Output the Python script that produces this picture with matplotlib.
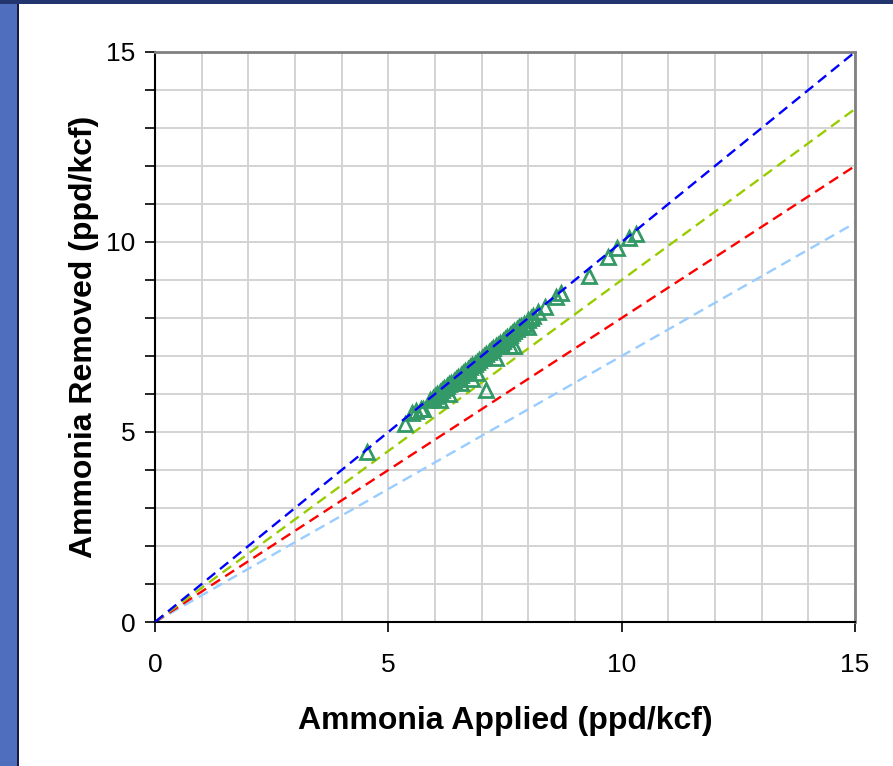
import matplotlib
matplotlib.use("Agg")
import matplotlib.pyplot as plt
from matplotlib.patches import Rectangle
from matplotlib.ticker import MultipleLocator

plt.rcParams['font.family'] = ['Liberation Sans', 'DejaVu Sans']

# Reference lines (removal fractions of applied)
line_x = [0, 15]
line_100 = [0, 15.0]
line_90 = [0, 13.5]
line_80 = [0, 12.0]
line_70 = [0, 10.5]

# Observed data (ppd/kcf)
applied = [4.55, 5.35, 5.5, 5.6, 5.75, 5.9, 5.95, 6.0, 6.05, 6.1, 6.15, 6.2,
           6.25, 6.3, 6.35, 6.4, 6.45, 6.5, 6.55, 6.6, 6.65, 6.7, 6.75, 6.8,
           6.85, 6.9, 6.95, 7.0, 7.05, 7.1, 7.15, 7.2, 7.25, 7.3, 7.35, 7.4,
           7.45, 7.5, 7.55, 7.6, 7.65, 7.7, 7.75, 7.8, 7.85, 7.9, 8.0, 8.05,
           8.1, 8.2, 8.35, 8.6, 8.7, 9.3, 9.7, 9.9, 10.15, 10.3,
           6.1, 6.3, 6.55, 6.8, 6.9, 7.1, 7.6, 7.7, 8.0, 5.7, 7.3]
removed = [4.47, 5.2, 5.5, 5.55, 5.6, 5.85, 5.9, 5.95, 6.0, 6.05, 6.1, 6.15,
           6.2, 6.25, 6.3, 6.35, 6.4, 6.45, 6.5, 6.55, 6.6, 6.65, 6.7, 6.75,
           6.8, 6.85, 6.9, 6.95, 7.0, 7.05, 7.1, 7.15, 7.2, 7.25, 7.3, 7.35,
           7.4, 7.45, 7.5, 7.55, 7.6, 7.65, 7.7, 7.75, 7.8, 7.85, 7.95, 8.0,
           8.05, 8.15, 8.3, 8.55, 8.65, 9.1, 9.6, 9.85, 10.1, 10.2,
           5.85, 6.0, 6.3, 6.4, 6.55, 6.1, 7.25, 7.25, 7.75, 5.6, 6.95]

fig = plt.figure(figsize=(8.93, 7.66), dpi=100)
fig.patch.set_facecolor('white')
# slide background strips
fig.add_artist(Rectangle((0, 0), 17 / 893, 1, transform=fig.transFigure,
                         facecolor='#4F6EBE', edgecolor='none', zorder=-10))
fig.add_artist(Rectangle((0, 1 - 4 / 766), 1, 4 / 766, transform=fig.transFigure,
                         facecolor='#22356E', edgecolor='none', zorder=-9))
fig.add_artist(Rectangle((17 / 893, 0), 1.5 / 893, 1 - 4 / 766, transform=fig.transFigure,
                         facecolor='#1A1A40', edgecolor='none', zorder=-8))

ax = fig.add_axes([155 / 893, 1 - 622 / 766, 700 / 893, 570 / 766])
ax.set_xlim(0, 15)
ax.set_ylim(0, 15)

ax.xaxis.set_major_locator(MultipleLocator(5))
ax.xaxis.set_minor_locator(MultipleLocator(1))
ax.yaxis.set_major_locator(MultipleLocator(5))
ax.yaxis.set_minor_locator(MultipleLocator(1))
ax.grid(True, which='both', color='#D3D3D3', linewidth=1.4, zorder=0)
ax.set_axisbelow(True)

dash = (0, (4.5, 2.6))
lw = 1.7
ax.plot(line_x, line_70, color='#99CCFF', linestyle=dash, linewidth=lw, zorder=2)
ax.plot(line_x, line_80, color='#FF0000', linestyle=dash, linewidth=lw, zorder=2)
ax.plot(line_x, line_90, color='#99CC00', linestyle=dash, linewidth=lw, zorder=2)
ax.plot(applied, removed, linestyle='none', marker='^', markersize=9.5,
        markerfacecolor='none', markeredgecolor='#339966', markeredgewidth=2.0, zorder=3)
ax.plot(line_x, line_100, color='#0000FF', linestyle=dash, linewidth=lw, zorder=4)

for s in ['left', 'bottom']:
    ax.spines[s].set_color('black')
    ax.spines[s].set_linewidth(1.5)
for s in ['top', 'right']:
    ax.spines[s].set_color('#808080')
    ax.spines[s].set_linewidth(2.0)

ax.tick_params(axis='x', which='major', direction='out', length=7, width=1.2,
               labelsize=19, pad=15)
ax.tick_params(axis='x', which='minor', length=0)
ax.tick_params(axis='y', which='both', direction='out', length=7, width=1.2,
               labelsize=19, pad=7)

ax.set_xlabel('Ammonia Applied (ppd/kcf)', fontsize=23, fontweight='bold', labelpad=21)
ax.set_ylabel('Ammonia Removed (ppd/kcf)', fontsize=23, fontweight='bold', labelpad=5)

fig.savefig('out.png', dpi=100, facecolor=fig.get_facecolor())
